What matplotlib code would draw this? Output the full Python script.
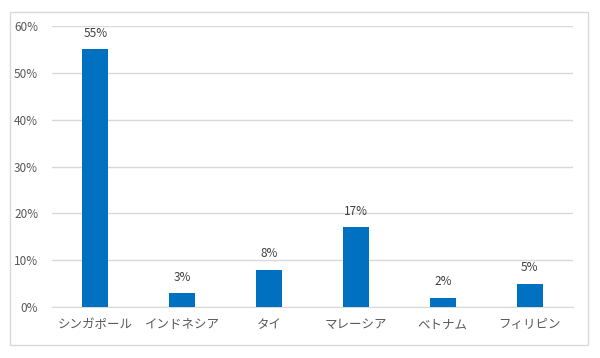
import matplotlib
matplotlib.use("Agg")
import matplotlib.pyplot as plt
import matplotlib.patches as patches

plt.rcParams['font.family'] = ['Noto Sans CJK JP', 'DejaVu Sans']

countries = ["シンガポール", "インドネシア", "タイ", "マレーシア", "ベトナム", "フィリピン"]
shares = [55, 3, 8, 17, 2, 5]
yticks = [0, 10, 20, 30, 40, 50, 60]

bar_color = '#0070C0'
text_color = '#595959'
grid_color = '#D9D9D9'

fig = plt.figure(figsize=(6, 3.58), dpi=100)
fig.patches.append(patches.Rectangle((10/600, 1-345/358), 578/600, 333/358,
                                     transform=fig.transFigure, fill=False,
                                     edgecolor='#D9D9D9', linewidth=1))
ax = fig.add_axes([52/600, 1-307/358, 521/600, 281/358])

x = range(len(countries))
ax.bar(x, shares, width=0.3, color=bar_color, zorder=3)
for i, v in enumerate(shares):
    ax.text(i, v + 2, f"{v}%", ha='center', va='bottom', fontsize=8.5, color='#404040')

ax.set_xlim(-0.5, len(countries) - 0.5)
ax.set_ylim(0, 60)
ax.set_yticks(yticks)
ax.set_yticklabels([f"{t}%" for t in yticks], fontsize=8.5, color=text_color)
ax.set_xticks(list(x))
ax.set_xticklabels(countries, fontsize=9, color=text_color)
ax.tick_params(length=0, pad=8)
ax.tick_params(axis='y', pad=10)
ax.grid(axis='y', color=grid_color, linewidth=1, zorder=0)
for s in ['top', 'right', 'left']:
    ax.spines[s].set_visible(False)
ax.spines['bottom'].set_color(grid_color)

fig.savefig('out.png', dpi=100)
